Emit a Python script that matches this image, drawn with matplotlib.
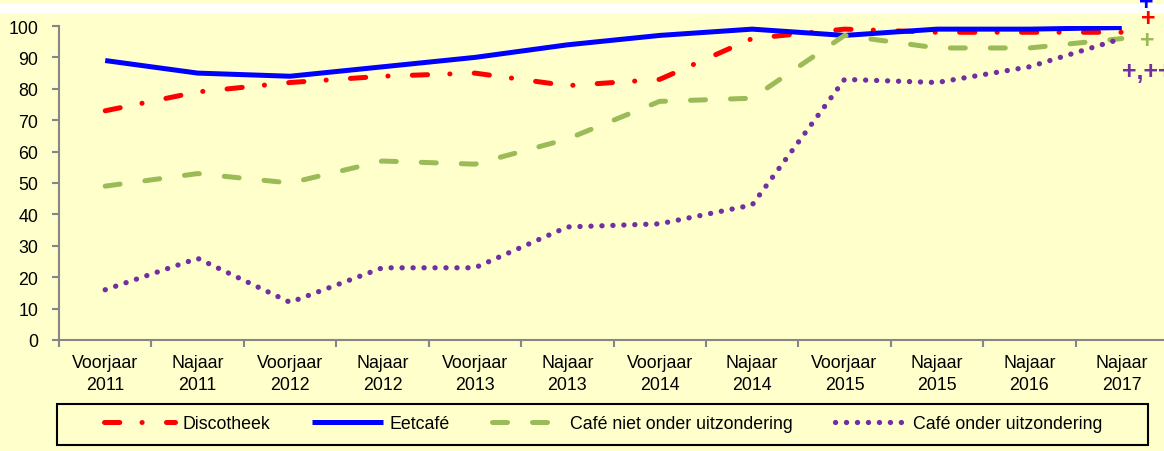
import numpy as np
import matplotlib
matplotlib.use("Agg")
import matplotlib.pyplot as plt
from matplotlib.patches import Rectangle

plt.rcParams["font.family"] = ["Liberation Sans Narrow", "Liberation Sans", "DejaVu Sans"]
plt.rcParams["lines.scale_dashes"] = False

periods = ["Voorjaar\n2011", "Najaar\n2011", "Voorjaar\n2012", "Najaar\n2012",
           "Voorjaar\n2013", "Najaar\n2013", "Voorjaar\n2014", "Najaar\n2014",
           "Voorjaar\n2015", "Najaar\n2015", "Najaar\n2016", "Najaar\n2017"]

discotheek = [73, 79, 82, 84, 85, 81, 83, 96, 99, 98, 98, 98]
eetcafe = [89, 85, 84, 87, 90, 94, 97, 99, 97, 99, 99, 99.5]
cafe_niet = [49, 53, 50, 57, 56, 64, 76, 77, 97, 93, 93, 96]
cafe_onder = [16, 26, 12, 23, 23, 36, 37, 43, 83, 82, 87, 96]

bg = "#FFFFCC"
fs = 12.8
W, H = 1164, 452
fig = plt.figure(figsize=(W / 100, H / 100), dpi=100, facecolor=bg)

# white strip under the (cut off) title
fig.add_artist(Rectangle((0, 1 - 14 / H), 1, 9 / H, transform=fig.transFigure,
                         facecolor="white", edgecolor="none", zorder=-1))

ax = fig.add_axes([59 / W, (H - 341) / H, (1168 - 59) / W, (341 - 27) / H])
ax.set_facecolor(bg)

x = np.arange(len(periods))
ax.plot(x, discotheek, color="#FF0000", lw=3.6, dashes=(11, 16, 0.1, 17.5),
        dash_capstyle="round", label="Discotheek")
ax.plot(x, eetcafe, color="#0000FF", lw=3.6, solid_capstyle="butt", label="Eetcafé")
ax.plot(x, cafe_niet, color="#9BBB59", lw=3.6, dashes=(10.8, 18),
        dash_capstyle="round", label="Café niet onder uitzondering")
ax.plot(x, cafe_onder, color="#7030A0", lw=3.8, dashes=(0.1, 7.8),
        dash_capstyle="round", label="Café onder uitzondering")

ax.set_xlim(-0.5, 11.5)
ax.set_ylim(0, 100)
ax.set_yticks(range(0, 101, 10))
ax.set_xticks(x)
ax.set_xticklabels(periods, fontsize=fs, linespacing=1.4)
ax.set_xticks(np.arange(-0.5, 11.6, 1), minor=True)
ax.tick_params(axis="x", which="major", length=0, pad=10)
ax.tick_params(axis="x", which="minor", length=5, width=1.5, color="#868686")
ax.tick_params(axis="y", length=5, width=1.5, color="#868686", pad=10, labelsize=fs)
for s in ["top", "right"]:
    ax.spines[s].set_visible(False)
for s in ["left", "bottom"]:
    ax.spines[s].set_color("#868686")
    ax.spines[s].set_linewidth(1.5)

# significance markers at the right
ax.text(11.27, 107.6, "+", color="#0000FF", fontsize=18, fontweight="bold",
        ha="center", va="center", clip_on=False)
ax.text(11.29, 102.6, "+", color="#FF0000", fontsize=18, fontweight="bold",
        ha="center", va="center", clip_on=False)
ax.text(11.28, 95.4, "+", color="#9BBB59", fontsize=18, fontweight="bold",
        ha="center", va="center", clip_on=False)
ax.text(11.0, 85.7, "+,++", color="#7030A0", fontsize=18, fontweight="bold",
        ha="left", va="center", clip_on=False)

# legend box
fig.add_artist(Rectangle((57 / W, (H - 446) / H), (1148 - 57) / W, 41 / H,
                         transform=fig.transFigure, facecolor="none",
                         edgecolor="black", lw=1.5))
fig.legend(loc="center left", bbox_to_anchor=(104 / W, (H - 425) / H), ncol=4,
           frameon=False, fontsize=fs, handlelength=4.0, handletextpad=0.4,
           columnspacing=2.35, borderpad=0, borderaxespad=0)

fig.savefig("out.png", dpi=100, facecolor=bg)
